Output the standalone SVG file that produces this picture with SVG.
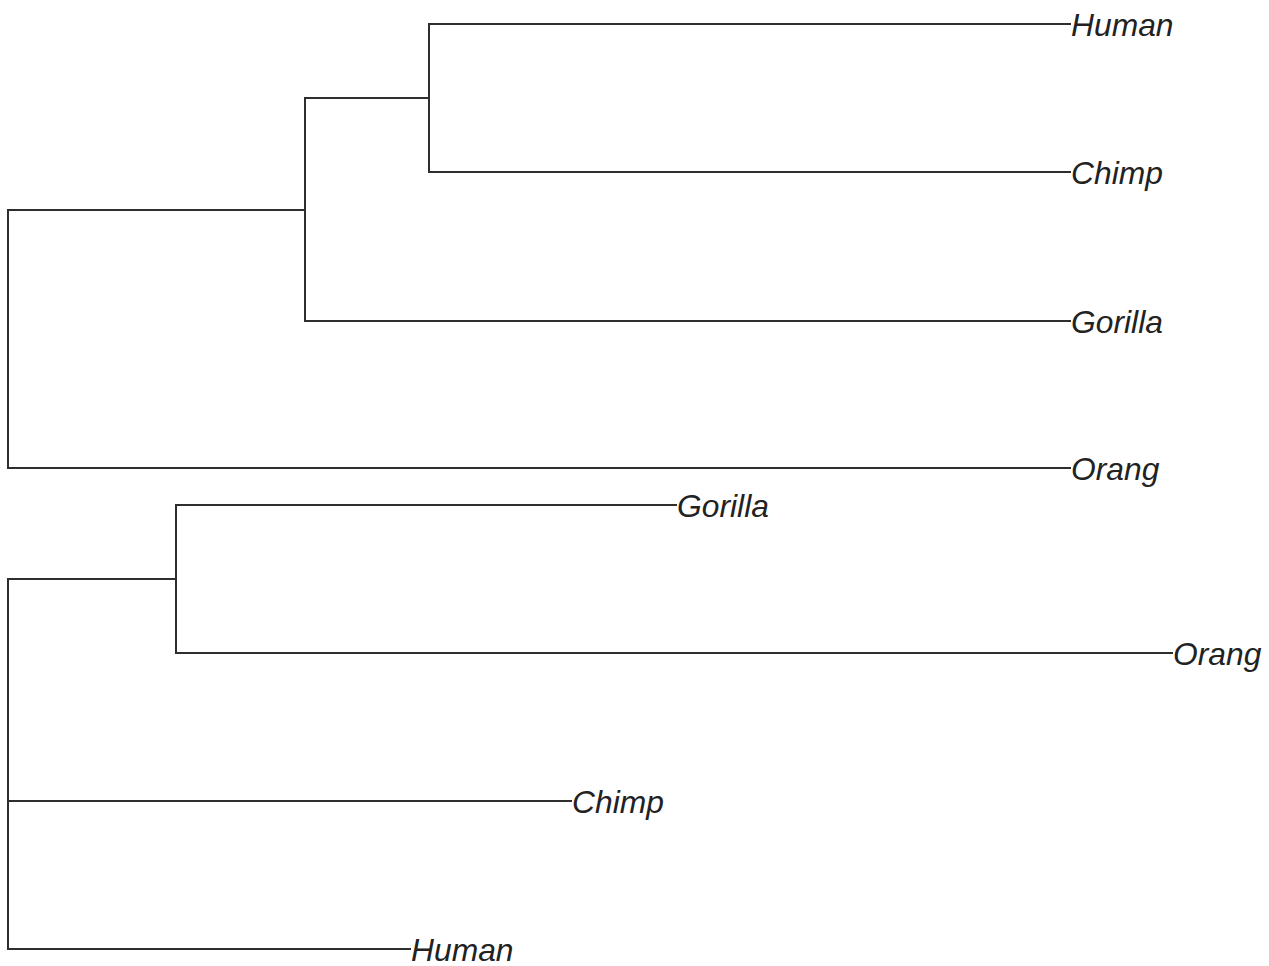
<svg xmlns="http://www.w3.org/2000/svg" width="1269" height="966" viewBox="0 0 1269 966">
  <style>
    .edge { fill: none; stroke: #2e2e2e; stroke-width: 2; stroke-linecap: square; stroke-linejoin: miter; }
    .tip { font-family: "Liberation Sans", Arial, sans-serif; font-style: italic; font-size: 31.8px; fill: #222222; }
  </style>
  <rect width="1269" height="966" fill="#ffffff"/>

  <!-- Upper tree: ((Human, Chimp), Gorilla), Orang -->
  <g id="connectors-upper">
    <path class="edge" d="M8,210 V468 H1070"/>
    <path class="edge" d="M8,210 H305"/>
    <path class="edge" d="M305,98 V321 H1070"/>
    <path class="edge" d="M305,98 H429"/>
    <path class="edge" d="M1070,24 H429 V172 H1070"/>
  </g>
  <g id="upper-human"><text class="tip" x="1071" y="36">Human</text></g>
  <g id="upper-chimp"><text class="tip" x="1071" y="184">Chimp</text></g>
  <g id="upper-gorilla"><text class="tip" x="1071" y="333">Gorilla</text></g>
  <g id="upper-orang"><text class="tip" x="1071" y="480">Orang</text></g>

  <!-- Lower tree: (Gorilla, Orang), Chimp, Human -->
  <g id="connectors-lower">
    <path class="edge" d="M176,579 V653 H1172"/>
    <path class="edge" d="M676,505 H176 V579"/>
    <path class="edge" d="M8,579 H176"/>
    <path class="edge" d="M8,579 V949 H410"/>
    <path class="edge" d="M8,801 H571"/>
  </g>
  <g id="lower-gorilla"><text class="tip" x="677" y="517">Gorilla</text></g>
  <g id="lower-orang"><text class="tip" x="1173" y="665">Orang</text></g>
  <g id="lower-chimp"><text class="tip" x="572" y="813">Chimp</text></g>
  <g id="lower-human"><text class="tip" x="411" y="961">Human</text></g>
</svg>
